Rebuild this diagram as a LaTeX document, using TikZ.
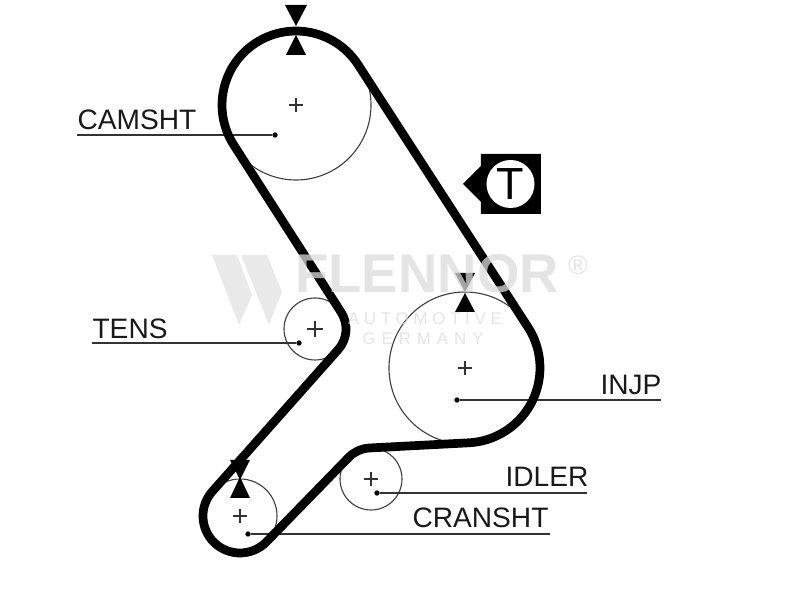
\documentclass[tikz,border=0pt]{standalone}
\usepackage{fontspec}
\setmainfont{Liberation Sans}
\usepackage{tikz}
\usetikzlibrary{shapes.geometric}
\definecolor{markgray}{gray}{0.86}
\tikzset{
  belt/.style={line width=3.1pt, line join=round},
  pulley/.style={line width=0.4pt, black!75},
  plusmark/.style={line width=0.4pt, black!80},
  leader/.style={line width=0.5pt, black!80},
  dot/.style={circle, fill=black, inner sep=0pt, minimum size=1.9pt},
  partname/.style={anchor=base west, inner sep=0pt, font=\fontsize{10}{10}\selectfont, black!90},
  flennor/.style={inner sep=0pt, text=markgray, text opacity=0.75}
}
\begin{document}
\begin{tikzpicture}[x=0.0125cm, y=0.0125cm]
    \useasboundingbox (0,0) rectangle (800,600);

    % Poleas
    \coordinate (cam) at (296,495);
    \coordinate (tens) at (315,271);
    \coordinate (inj) at (465,232);
    \coordinate (idler) at (371,121);
    \coordinate (crank) at (240,84);
    \draw[pulley] (cam) circle (75);
    \draw[pulley] (tens) circle (31);
    \draw[pulley] (inj) circle (76);
    \draw[pulley] (idler) circle (31);
    \draw[pulley] (crank) circle (37);
    \draw[plusmark] (cam)+(-7,0) -- +(7,0) (cam)+(0,-7) -- +(0,7);
    \draw[plusmark] (tens)+(-8,0) -- +(8,0) (tens)+(0,-8) -- +(0,8);
    \draw[plusmark] (inj)+(-7,0) -- +(7,0) (inj)+(0,-7) -- +(0,7);
    \draw[plusmark] (idler)+(-7,0) -- +(7,0) (idler)+(0,-7) -- +(0,7);
    \draw[plusmark] (crank)+(-7,0) -- +(7,0) (crank)+(0,-7) -- +(0,7);

    % Nombres y lineas de referencia
    \node[partname] (camname) at (77,470) {CAMSHT};
    \node[partname] (tensname) at (92,261) {TENS};
    \node[partname] (injname) at (600,205) {INJP};
    \node[partname] (idlername) at (505,113) {IDLER};
    \node[partname] (crankname) at (412,72) {CRANSHT};
    \coordinate (camend) at (77,465);
    \coordinate (tensend) at (92,257);
    \coordinate (injend) at (661,200);
    \coordinate (idlerend) at (587,107);
    \coordinate (crankend) at (550,66);
    \node[dot] (camdot) at (275,465) {};
    \node[dot] (tensdot) at (299,257) {};
    \node[dot] (injdot) at (457,200) {};
    \node[dot] (idlerdot) at (377,107) {};
    \node[dot] (crankdot) at (248,66) {};
    \draw[leader] (camend) -- (camdot);
    \draw[leader] (tensend) -- (tensdot);
    \draw[leader] (injend) -- (injdot);
    \draw[leader] (idlerend) -- (idlerdot);
    \draw[leader] (crankend) -- (crankdot);

    % Correa
    \draw[belt] (233.7,455.1) arc[start angle=-147.4, end angle=-327.3, radius=74]
        -- (528.1,272.6) arc[start angle=32.7, end angle=-87.1, radius=75]
        -- (369.4,152) arc[start angle=92.9, end angle=135.8, radius=31]
        -- (266.5,58.2) arc[start angle=-44.2, end angle=-221.6, radius=37]
        -- (338.2,250.4) arc[start angle=-41.6, end angle=32.6, radius=31]
        -- cycle;

    % Marcas de reglaje
    \fill (285,595) -- (307,595) -- (296,574) -- cycle;
    \fill (286,545) -- (306,545) -- (296,565) -- cycle;
    \fill (455,327) -- (475,327) -- (465,308) -- cycle;
    \fill (455,288) -- (475,288) -- (465,307) -- cycle;
    \fill (230,140) -- (250,140) -- (240,120) -- cycle;
    \fill (230,102) -- (250,102) -- (240,123) -- cycle;

    % Tensor
    \fill (463,416) -- (481,434) -- (481,446) -- (541,446) -- (541,386) -- (481,386) -- (481,398) -- cycle;
    \node[circle, fill=white, inner sep=0pt, minimum size=0.6cm, font=\fontsize{16}{16}\selectfont] (tbadge) at (510.5,416) {T};

    % Marca de agua
    \fill[markgray, opacity=0.6] (212,345) -- (237,345) -- (252,305) -- (239,275) -- cycle;
    \fill[markgray, opacity=0.6] (241,345) -- (267,345) -- (282,308) -- (269,275) -- cycle;
    \node[flennor, font=\bfseries\fontsize{19.4}{19.4}\selectfont] (brand) at (427,326) {FLENNOR};
    \node[flennor, font=\fontsize{9.5}{9.5}\selectfont] (regmark) at (578,335) {®};
    \node[flennor, font=\fontsize{6}{6}\selectfont\addfontfeature{LetterSpace=28}] (auto) at (425,281) {AUTOMOTIVE};
    \node[flennor, font=\fontsize{6}{6}\selectfont\addfontfeature{LetterSpace=35}] (germany) at (423,261) {GERMANY};
\end{tikzpicture}
\end{document}
